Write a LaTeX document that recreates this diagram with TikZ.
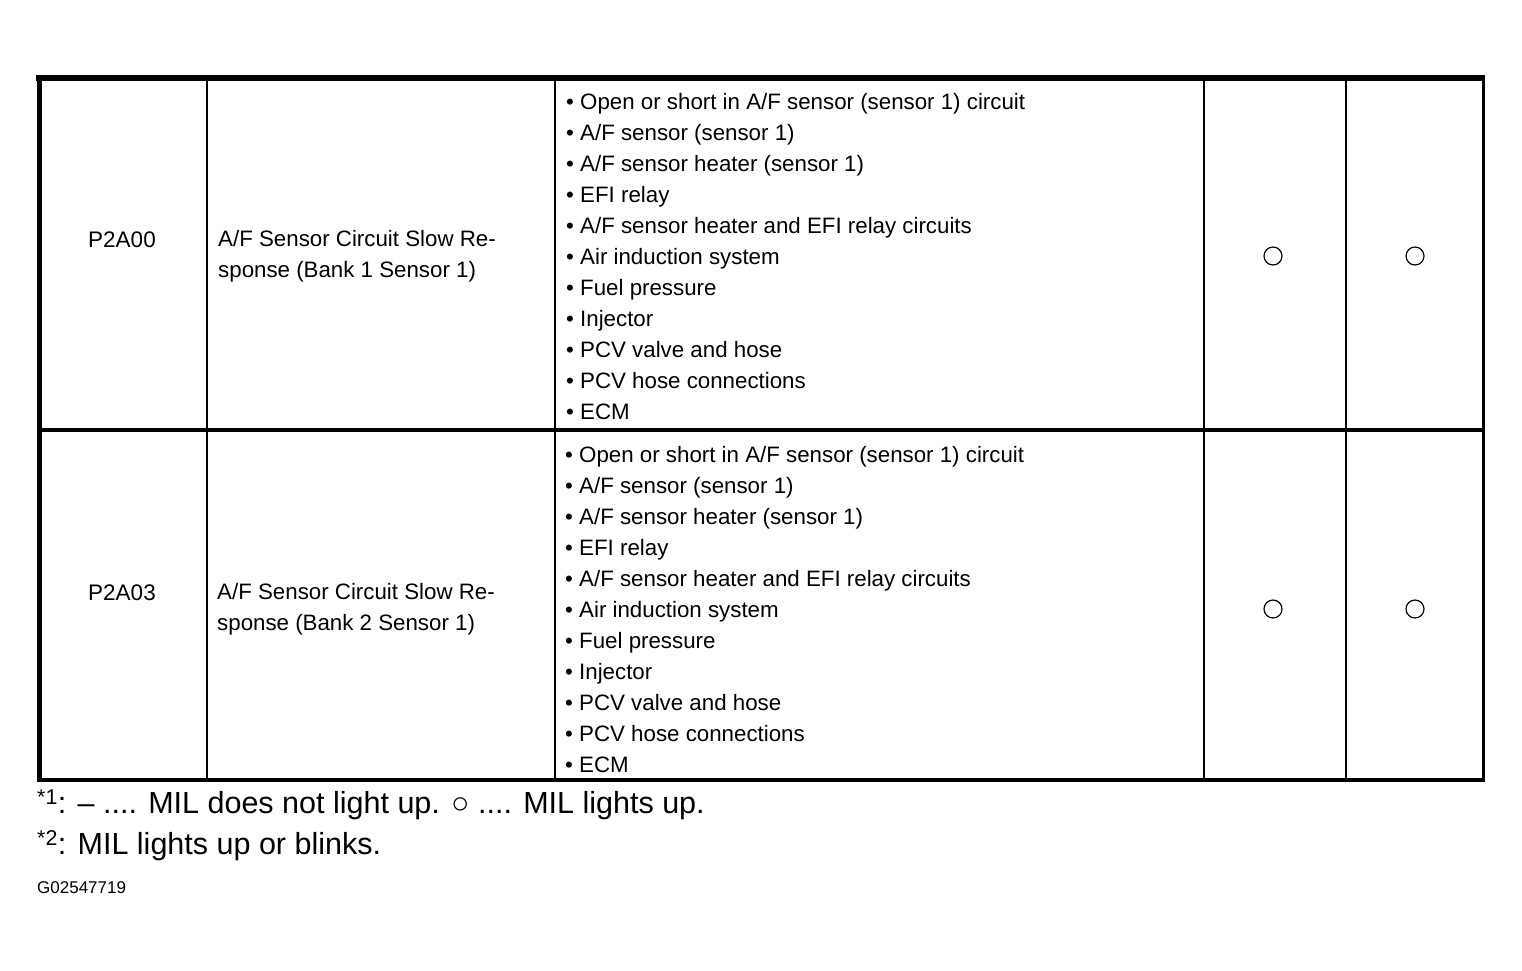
\documentclass[tikz,border=0pt]{standalone}
\usepackage{fontspec}
\setmainfont{Liberation Sans}
\usetikzlibrary{calc}
\def\drawrule{\draw[line width=2.5pt]}
\def\litnode{\node[circle,draw=black,line width=1.2pt,minimum size=18pt]}

\begin{document}
\begin{tikzpicture}[x=1pt,y=-1pt,inner sep=0pt,
  code/.style={font=\fontsize{22.5}{31}\selectfont},
  cell/.style={font=\fontsize{22.3}{31}\selectfont,align=left,anchor=west},
  note/.style={font=\fontsize{30.5}{40}\selectfont,anchor=west}]
\useasboundingbox (0,0) rectangle (1522,970);
\coordinate (o) at (39,78); % table corner, everything below is relative to (o)

% Frame
\coordinate (tr) at ($ (o) + (1444,0) $);
\coordinate (bl) at ($ (o) + (0,702) $);
\coordinate (br) at ($ (o) + (1444,702) $);
\draw[line width=6pt] ($ (o) + (-3,0) $) to ($ (tr) + (2,0) $);
\draw[line width=5pt] (o) to (bl);
\draw[line width=3pt] (tr) to (br);
\draw[line width=4pt] ($ (bl) + (-2.5,0) $) to ($ (br) + (1.5,0) $);

% Row divider and column rules
\coordinate (mid_l) at ($ (o) + (0,352) $);
\coordinate (mid_r) at ($ (o) + (1444,352) $);
\draw[line width=4pt] (mid_l) to (mid_r);
\coordinate (col_a) at ($ (o) + (168,0) $);
\coordinate (col_b) at ($ (o) + (516,0) $);
\coordinate (col_c) at ($ (o) + (1165,0) $);
\coordinate (col_d) at ($ (o) + (1307,0) $);
\drawrule (col_a) to ($ (col_a) + (0,702) $);
\drawrule (col_b) to ($ (col_b) + (0,702) $);
\drawrule (col_c) to ($ (col_c) + (0,702) $);
\drawrule (col_d) to ($ (col_d) + (0,702) $);

% First row
\node[code] (code1) at ($ (o) + (83,162) $) {P2A00};
\node[cell] (desc1) at ($ (o) + (179,178) $) {A/F Sensor Circuit Slow Re-\\sponse (Bank 1 Sensor 1)};
\node[cell] (list1) at ($ (o) + (527,179) $) {• Open or short in A/F sensor (sensor 1) circuit\\
• A/F sensor (sensor 1)\\
• A/F sensor heater (sensor 1)\\
• EFI relay\\
• A/F sensor heater and EFI relay circuits\\
• Air induction system\\
• Fuel pressure\\
• Injector\\
• PCV valve and hose\\
• PCV hose connections\\
• ECM};
\litnode (mil1) at ($ (o) + (1234,178) $) {};
\litnode (warn1) at ($ (o) + (1376,178) $) {};

% Second row
\node[code] (code2) at ($ (o) + (83,515) $) {P2A03};
\node[cell] (desc2) at ($ (o) + (178,531) $) {A/F Sensor Circuit Slow Re-\\sponse (Bank 2 Sensor 1)};
\node[cell] (list2) at ($ (o) + (526,532) $) {• Open or short in A/F sensor (sensor 1) circuit\\
• A/F sensor (sensor 1)\\
• A/F sensor heater (sensor 1)\\
• EFI relay\\
• A/F sensor heater and EFI relay circuits\\
• Air induction system\\
• Fuel pressure\\
• Injector\\
• PCV valve and hose\\
• PCV hose connections\\
• ECM};
\litnode (mil2) at ($ (o) + (1234,531) $) {};
\litnode (warn2) at ($ (o) + (1376,531) $) {};

% Notes under the table
\node[note] (note1) at ($ (bl) + (-2,25) $) {\textsuperscript{*1}: – .... MIL does not light up. ○ .... MIL lights up.};
\node[note] (note2) at ($ (bl) + (-2,66) $) {\textsuperscript{*2}: MIL lights up or blinks.};
\node[anchor=west,font=\fontsize{17}{19}\selectfont] (fig) at ($ (bl) + (-2,108) $) {G02547719};
\end{tikzpicture}
\end{document}
